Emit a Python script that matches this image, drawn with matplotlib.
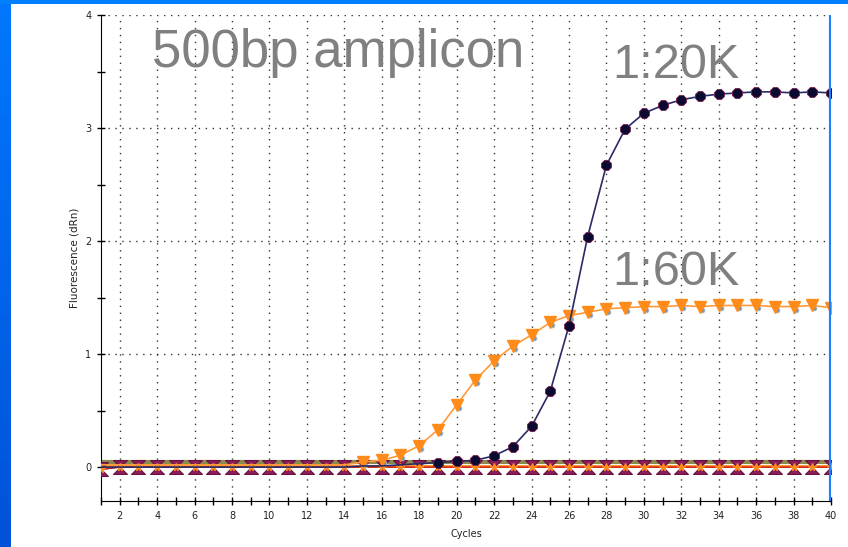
import numpy as np
import matplotlib
matplotlib.use("Agg")
import matplotlib.pyplot as plt
from matplotlib.path import Path
from matplotlib.transforms import offset_copy

cycles = list(range(1, 41))

# 1:20K dilution
dil_20k = [0.00, 0.00, 0.00, 0.00, 0.00, 0.00, 0.00, 0.00, 0.00, 0.00,
           0.00, 0.00, 0.00, 0.00, 0.01, 0.01, 0.02, 0.03, 0.04, 0.05,
           0.06, 0.10, 0.18, 0.36, 0.67, 1.25, 2.04, 2.67, 2.99, 3.13,
           3.20, 3.25, 3.28, 3.30, 3.31, 3.32, 3.32, 3.31, 3.32, 3.31]

# 1:60K dilution
dil_60k = [0.02, 0.02, 0.02, 0.02, 0.02, 0.02, 0.02, 0.02, 0.02, 0.02,
           0.02, 0.02, 0.02, 0.02, 0.045, 0.06, 0.105, 0.19, 0.33, 0.55,
           0.77, 0.94, 1.07, 1.17, 1.28, 1.34, 1.37, 1.40, 1.41, 1.42,
           1.42, 1.43, 1.42, 1.43, 1.43, 1.43, 1.42, 1.42, 1.43, 1.41]

# no-template / background wells
ntc_a = [-0.02, 0.00, 0.00, 0.00, 0.00, 0.00, 0.00, 0.00, 0.00, 0.00,
         0.00, 0.00, 0.00, 0.00, 0.00, 0.00, 0.00, 0.00, 0.00, 0.00,
         0.00, 0.00, 0.00, 0.00, 0.00, 0.00, 0.00, 0.00, 0.00, 0.00,
         0.00, 0.00, 0.00, 0.00, 0.00, 0.00, 0.00, 0.00, 0.00, 0.00]
ntc_b = [0.01, 0.01, 0.01, 0.01, 0.01, 0.01, 0.01, 0.01, 0.01, 0.01,
         0.01, 0.01, 0.01, 0.01, 0.01, 0.01, 0.01, 0.01, 0.01, 0.01,
         0.01, 0.01, 0.01, 0.01, 0.01, 0.01, 0.01, 0.01, 0.01, 0.01,
         0.01, 0.01, 0.01, 0.01, 0.01, 0.01, 0.01, 0.01, 0.01, 0.01]

threshold = 0.045

fig = plt.figure(figsize=(8.48, 5.47), dpi=100, facecolor="white")

# blue slide border, left and top
band = fig.add_axes([0, 0, 11 / 848, 1])
band.imshow(np.linspace(0, 1, 256).reshape(-1, 1), aspect="auto",
            cmap=matplotlib.colors.LinearSegmentedColormap.from_list(
                "edge", ["#0078ff", "#0052d8"]), extent=[0, 1, 0, 1])
band.axis("off")
top = fig.add_axes([0, 1 - 4 / 547, 1, 4 / 547])
top.set_facecolor("#0080ff")
top.set_xticks([])
top.set_yticks([])
for s in top.spines.values():
    s.set_visible(False)

ax = fig.add_axes([101 / 848, 46 / 547, 730 / 848, 486 / 547])
ax.set_xlim(1, 40)
ax.set_ylim(-0.3, 4)

ax.set_xticks(range(1, 41))
ax.set_xticklabels([str(c) if c % 2 == 0 else "" for c in range(1, 41)])
ax.set_yticks(np.arange(0, 4.01, 0.5))
ax.set_yticklabels(["0", "", "1", "", "2", "", "3", "", "4"])
ax.tick_params(direction="inout", length=6, width=1, labelsize=7, pad=4,
               colors="black", labelcolor="#222222")

for x in range(2, 41, 2):
    ax.axvline(x, color="#333333", lw=1, ls=(0, (1, 4)), zorder=0)
for y in range(1, 5):
    ax.axhline(y, color="#333333", lw=1, ls=(0, (1, 4)), zorder=0)

ax.spines["top"].set_visible(False)
ax.spines["right"].set_visible(False)
ax.axvline(40, color="#1a82ff", lw=3, zorder=6)

# hourglass marker: two triangles meeting at the centre
hourglass = Path(
    [(-1, 1), (1, 1), (0, 0), (-1, 1),
     (-1, -1), (1, -1), (0, 0), (-1, -1)],
    [Path.MOVETO, Path.LINETO, Path.LINETO, Path.CLOSEPOLY,
     Path.MOVETO, Path.LINETO, Path.LINETO, Path.CLOSEPOLY])

# baseline wells
ax.plot(cycles, [threshold] * len(cycles), color="#8a8a4e", lw=3, zorder=2)
ax.plot(cycles, ntc_a, color="#1a1a5e", lw=1, zorder=3)
ax.plot(cycles, ntc_b, color="#ff8c1a", lw=2, zorder=3)
ax.plot(cycles, ntc_a, color="#cc1a1a", lw=1, marker=hourglass, ms=10,
        mfc="#8b1f5c", mec="#6a1040", mew=0.8, zorder=3)
ax.plot(cycles, ntc_a, ls="none", marker="*", ms=5.5, mfc="#ff8c1a",
        mec="#ff8c1a", zorder=4)

# amplification curves
ax.plot(cycles, dil_60k, color="#ff9a3c", lw=1.2, zorder=4)
dot_tr = offset_copy(ax.transData, fig=fig, x=2, y=-3, units="dots")
ax.plot(cycles[14:], dil_60k[14:], ls="none", marker="o", ms=3,
        mfc="#5d86ad", mec="#9ab4cc", transform=dot_tr, zorder=4)
ax.plot(cycles[14:], dil_60k[14:], ls="none", marker="v", ms=8,
        mfc="#ff8c1a", mec="#ff8c1a", zorder=5)

ax.plot(cycles, dil_20k, color="#2a2a66", lw=1.2, zorder=5)
ax.plot(cycles[18:], dil_20k[18:], ls="none", marker="8", ms=7.5,
        mfc="#0a0a30", mec="#7a2050", mew=0.6, zorder=5)

ax.set_xlabel("Cycles", fontsize=7, labelpad=6, color="#222222")
ax.set_ylabel("Fluorescence (dRn)", fontsize=7.5, labelpad=4,
              color="#222222")

font = {"family": ["Liberation Sans", "DejaVu Sans"], "color": "#808080"}
fig.text(152 / 848, 1 - 67 / 547, "500bp amplicon", fontsize=38, **font)
fig.text(612 / 848, 1 - 78 / 547, "1:20K", fontsize=35, **font)
fig.text(612 / 848, 1 - 285 / 547, "1:60K", fontsize=35, **font)

fig.savefig("out.png", dpi=100, facecolor="white")
